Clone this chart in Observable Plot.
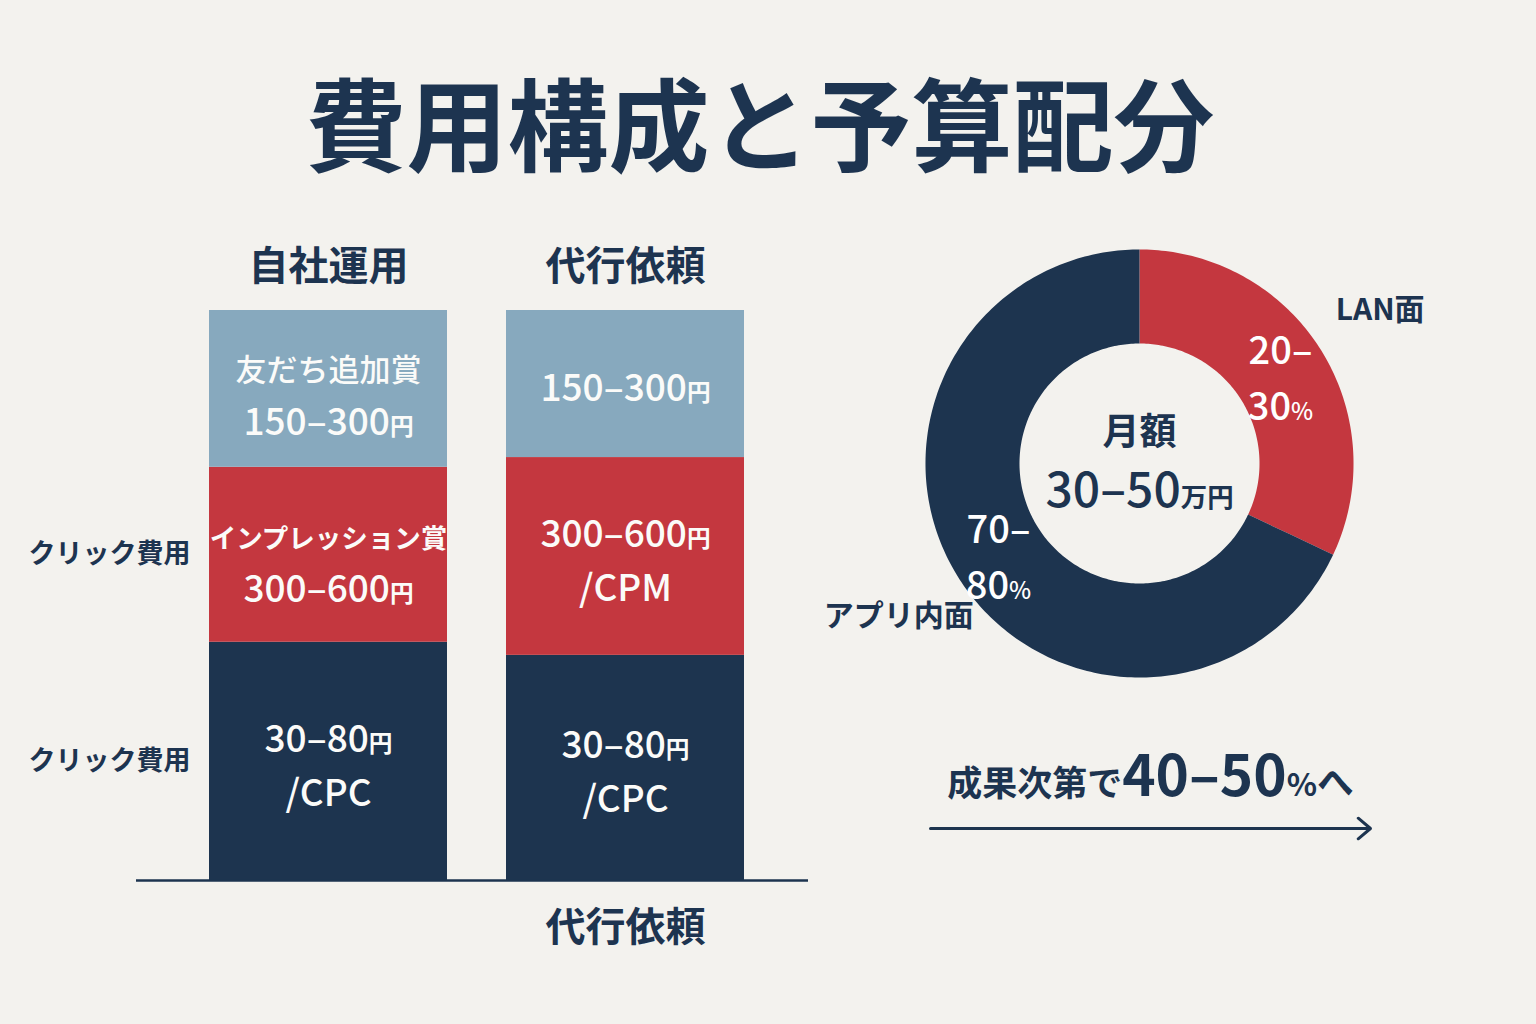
<!DOCTYPE html>
<html><head><meta charset="utf-8">
<script src="https://cdn.jsdelivr.net/npm/d3@7"></script>
<script src="https://cdn.jsdelivr.net/npm/@observablehq/plot@0.6"></script>
<style>
html,body{margin:0;padding:0;background:#f3f2ee;}
#wrap{position:relative;width:1536px;height:1024px;overflow:hidden;background:#f3f2ee;font-family:'Noto Sans CJK JP','Noto Sans',sans-serif;}
.abs{position:absolute;}
#title{left:-8px;width:1536px;top:70px;text-align:center;font-size:101px;line-height:101px;font-weight:700;color:#1d3450;white-space:nowrap;}
</style></head><body>
<div id="wrap">
  <div id="title" class="abs">費用構成と予算配分</div>
  <div id="bars" class="abs" style="left:0;top:200px;width:840px;height:780px"></div>
  <div id="donut" class="abs" style="left:789px;top:113px;width:700px;height:700px"></div>
  <div id="trend" class="abs" style="left:920px;top:740px;width:460px;height:110px"></div>
</div>
<script>
// ---------- data ----------
const categories = ["自社運用", "代行依頼"];
const series = ["CPC", "インプレッション", "友だち追加"];
const seriesRowLabels = ["クリック費用", "クリック費用", ""];
const selfValues = [41.8, 30.7, 27.5];
const agencyValues = [39.5, 34.7, 25.8];
const selfLabels = ["30–80円\n/CPC", "インプレッション賞\n300–600円", "友だち追加賞\n150–300円"];
const agencyLabels = ["30–80円\n/CPC", "300–600円\n/CPM", "150–300円"];
const bottomLabel = "代行依頼";

const sliceNames = ["LAN面", "アプリ内面"];
const sliceShares = [32, 68];
const sliceRanges = ["20–\n30%", "70–\n80%"];
const centerLabel = "月額\n30–50万円";

const trendFrom = "20–30%";
const trendTo = "40–50%";
const trendLabel = "成果次第で40–50%へ";

// ---------- style ----------
const NAVY = "#1d344f", RED = "#c4373f", BLUE = "#87a9be", INK = "#1d3450";
const FONT = "'Noto Sans CJK JP','Noto Sans',sans-serif";
const svgStyle = {background: "transparent", overflow: "visible", fontFamily: FONT};

function esc(s) { return s.replace(/&/g, "&amp;").replace(/</g, "&lt;").replace(/>/g, "&gt;"); }
// mixed font sizes inside a text line (e.g. a smaller 円 or %)
function richify(root, rules) {
  const leaves = [];
  root.querySelectorAll("text").forEach(t => {
    const ts = t.querySelectorAll("tspan");
    if (ts.length) ts.forEach(s => leaves.push(s)); else leaves.push(t);
  });
  for (const el of leaves) {
    const s = el.textContent;
    const whole = rules.find(r => r.line && new RegExp("^(?:" + r.re.source + ")$").test(s));
    if (whole) {
      el.setAttribute("font-size", whole.px);
      if (whole.weight) el.setAttribute("font-weight", whole.weight);
      continue;
    }
    let html = "", i = 0, changed = false;
    while (i < s.length) {
      let best = null;
      for (const r of rules) {
        if (r.line) continue;
        const re = new RegExp(r.re.source, "g");
        re.lastIndex = i;
        const m = re.exec(s);
        if (m && m[0].length && (!best || m.index < best.m.index)) best = {m, r};
      }
      if (!best) { html += esc(s.slice(i)); break; }
      changed = true;
      html += esc(s.slice(i, best.m.index));
      html += `<tspan font-size="${best.r.size}"${best.r.weight ? ` font-weight="${best.r.weight}"` : ""}>${esc(best.m[0])}</tspan>`;
      i = best.m.index + best.m[0].length;
    }
    if (changed) el.innerHTML = html;
  }
}

// ---------- stacked bars ----------
const barData = [];
categories.forEach((cat, ci) => {
  const vals = ci === 0 ? selfValues : agencyValues;
  const labs = ci === 0 ? selfLabels : agencyLabels;
  series.forEach((s, si) => barData.push({cat, series: s, value: vals[si], label: labs[si], rowLabel: seriesRowLabels[si]}));
});
const rowData = barData.filter(d => d.cat === categories[0] && d.rowLabel);

const bars = Plot.plot({
  width: 840, height: 780,
  marginLeft: 136, marginRight: 32, marginTop: 110, marginBottom: 100,
  style: svgStyle,
  x: {domain: categories, paddingInner: 0.2, paddingOuter: 0.229, align: 0.53, axis: null},
  y: {domain: [0, 100], axis: null},
  color: {domain: series, range: [NAVY, RED, BLUE]},
  marks: [
    Plot.barY(barData, {x: "cat", y: "value", fill: "series"}),
    Plot.ruleY([0], {stroke: NAVY, strokeWidth: 2.5}),
    Plot.text(barData, Plot.stackY({x: "cat", y: "value", text: "label", fill: "#fbfbf9", fontSize: 37, fontWeight: 500, lineHeight: 1.46})),
    Plot.text(rowData, Plot.stackY({y: "value", text: "rowLabel", frameAnchor: "left", textAnchor: "end", dx: 54, fontSize: 27, fontWeight: 700, fill: INK})),
    Plot.text(categories, {x: d => d, text: d => d, frameAnchor: "top", lineAnchor: "middle", dy: -43, fontSize: 40, fontWeight: 700, fill: INK}),
    Plot.text([bottomLabel], {x: d => d, text: d => d, frameAnchor: "bottom", lineAnchor: "middle", dy: 48, fontSize: 40, fontWeight: 700, fill: INK})
  ]
});
richify(bars, [
  {re: /友だち追加賞/, line: true, px: 31, weight: 500},
  {re: /インプレッション賞/, line: true, px: 26.5, weight: 700},
  {re: /円/, size: "0.64em", weight: 700}
]);
document.getElementById("bars").appendChild(bars);

// ---------- donut (azimuthal projection around the pole) ----------
const R_OUT = 214, R_IN = 120, R_LABEL = 285, HALF = 350;
const LAT_OUT = 0;
const LAT_IN = 90 - 90 * R_IN / R_OUT;
const LAT_MID = (LAT_OUT + LAT_IN) / 2;
const LAT_LABEL = 90 - 90 * R_LABEL / R_OUT;
const DOMAIN_R = 90 * HALF / R_OUT;
const lon = a => 180 - a;   // clockwise angle from 12 o'clock -> longitude

const total = d3.sum(sliceShares);
let acc = 0;
const slices = sliceShares.map((v, i) => {
  const a0 = acc / total * 360; acc += v; const a1 = acc / total * 360;
  return {name: sliceNames[i], range: sliceRanges[i], a0, a1, mid: (a0 + a1) / 2};
});
function sector(s) {
  const outer = d3.range(s.a0, s.a1, 1).concat([s.a1]).map(a => [lon(a), LAT_OUT]);
  const inner = d3.range(s.a1, s.a0, -1).concat([s.a0]).map(a => [lon(a), LAT_IN]);
  return {type: "Feature", properties: {name: s.name},
    geometry: {type: "Polygon", coordinates: [outer.concat(inner, [outer[0]])]}};
}
const features = slices.map(sector);

const donut = Plot.plot({
  width: 2 * HALF, height: 2 * HALF, margin: 0,
  style: svgStyle,
  projection: {type: "azimuthal-equidistant", rotate: [0, -90], domain: d3.geoCircle().center([0, 90]).radius(DOMAIN_R)(), inset: 0},
  color: {domain: sliceNames, range: [RED, NAVY]},
  marks: [
    Plot.geo(features, {fill: d => d.properties.name}),
    Plot.text([centerLabel], {frameAnchor: "middle", text: d => d, dy: -10, fontSize: 48, fontWeight: 500, fill: INK, lineHeight: 1.3}),
    Plot.text(slices, {x: d => lon(d.mid), y: () => LAT_MID, text: "range", fill: "#ffffff", fontSize: 38, fontWeight: 500, lineHeight: 1.47}),
    Plot.text(slices, {x: d => lon(d.mid), y: () => LAT_LABEL, text: "name", fill: INK, fontSize: 30, fontWeight: 700})
  ]
});
richify(donut, [
  {re: /月額/, line: true, px: 37, weight: 700},
  {re: /万円/, size: "0.55em", weight: 700},
  {re: /%/, size: "0.62em"}
]);
document.getElementById("donut").appendChild(donut);

// ---------- trend arrow ----------
const trend = Plot.plot({
  width: 460, height: 110,
  marginLeft: 10, marginRight: 10, marginTop: 76, marginBottom: 10,
  style: svgStyle,
  x: {type: "point", domain: [trendFrom, trendTo], padding: 0, axis: null},
  y: {type: "point", domain: ["shift"], axis: null},
  marks: [
    Plot.arrow([{from: trendFrom, to: trendTo}], {x1: "from", x2: "to", y1: () => "shift", y2: () => "shift", stroke: NAVY, strokeWidth: 3, headAngle: 80}),
    Plot.text([trendLabel], {y: () => "shift", text: d => d, dy: -33, lineAnchor: "bottom", fontSize: 35, fontWeight: 700, fill: INK})
  ]
});
richify(trend, [
  {re: /\d+–\d+/, size: "1.62em"},
  {re: /%/, size: "0.9em"},
  {re: /へ/, size: "1.05em"}
]);
document.getElementById("trend").appendChild(trend);
</script>
</body></html>
